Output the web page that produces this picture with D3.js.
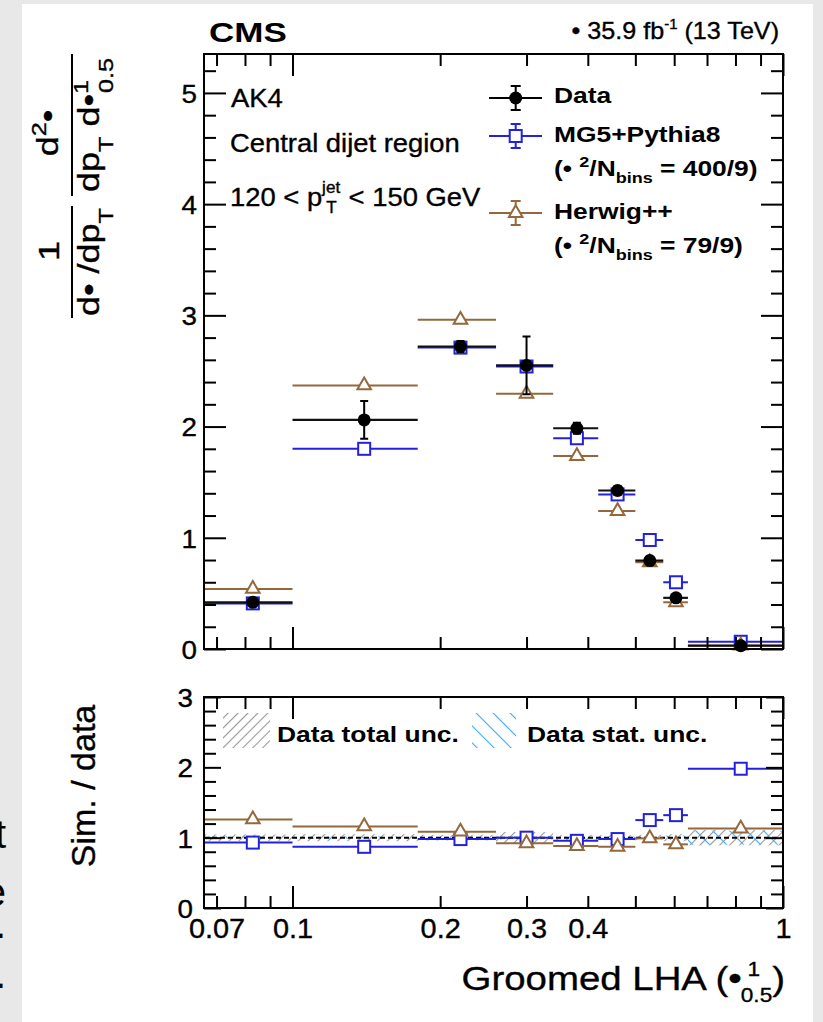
<!DOCTYPE html>
<html>
<head>
<meta charset="utf-8">
<script src="https://cdn.jsdelivr.net/npm/d3@7/dist/d3.min.js"></script>
<style>
  body { margin: 0; background: #e8e8e8; }
  text { font-family: "Liberation Sans", Arial, sans-serif; fill: #000; }
  .heavy { stroke: #000; stroke-width: 0.35; }
</style>
</head>
<body>
<svg id="chart" width="823" height="1022"></svg>
<script>
// bins of groomed LHA
var binLo = [0.066, 0.1, 0.18, 0.26, 0.34, 0.42, 0.5, 0.57, 0.64];
var binHi = [0.1, 0.18, 0.26, 0.34, 0.42, 0.5, 0.57, 0.64, 1];

// upper panel: normalised distribution
var dataVal = [0.42, 2.06, 2.72, 2.55, 1.985, 1.425, 0.795, 0.46, 0.03];
var dataErr = [0.03, 0.17, 0.05, 0.26, 0.05, 0.04, 0.03, 0.03, 0.01];
var mg5Val = [0.41, 1.80, 2.71, 2.54, 1.895, 1.39, 0.98, 0.60, 0.065];
var herwigVal = [0.54, 2.37, 2.96, 2.295, 1.735, 1.24, 0.78, 0.42, 0.03];

// lower panel: sim / data
var mg5Ratio = [0.93, 0.87, 0.98, 1.0, 0.955, 0.98, 1.25, 1.32, 1.98];
var herwigRatio = [1.26, 1.16, 1.085, 0.92, 0.88, 0.87, 0.99, 0.905, 1.13];
var totUnc = [0.045, 0.05, 0.04, 0.08, 0.04, 0.035, 0.04, 0.05, 0.11];
var statUnc = [0.02, 0.02, 0.015, 0.025, 0.015, 0.015, 0.02, 0.03, 0.10];

// axis ticks
var xMinor = [0.07, 0.08, 0.09, 0.2, 0.3, 0.4, 0.5, 0.6, 0.7, 0.8, 0.9];
var xMajor = [0.1, 1];
var xLabels = [0.07, 0.1, 0.2, 0.3, 0.4, 1];
var yMainMajor = [0, 1, 2, 3, 4, 5];
var yRatioMajor = [0, 1, 2, 3];

var BLUE = "#2222dd", BROWN = "#94683c", GREY = "#999999", LBLUE = "#45aef0";
var SXR = 1.07, SXB = 1.2;

var L = 204, R = 783, T1 = 54, B1 = 649, T2 = 697, B2 = 908;

var svg = d3.select("#chart");
svg.append("rect").attr("x", 22).attr("y", 4).attr("width", 791).attr("height", 1018).attr("fill", "#fff");

var x = d3.scaleLog().domain([0.066, 1]).range([L, R]);
var yMain = d3.scaleLinear().domain([0, 5.35]).range([B1, T1]);
var yRatio = d3.scaleLinear().domain([0, 3]).range([B2, T2]);
var mid = function(i){ return (binLo[i] + binHi[i]) / 2; };
var idx = d3.range(binLo.length);

function txt(g, px, py, size, sx, anchor, weight){
    return g.append("text")
        .attr("transform", "translate(" + px + "," + py + ") scale(" + sx + ",1)")
        .attr("font-size", size)
        .attr("text-anchor", anchor || "start")
        .attr("font-weight", weight || "normal")
        .attr("class", weight ? null : "heavy");
}

// hatch patterns
var defs = svg.append("defs");
defs.append("pattern").attr("id", "hatchTot").attr("patternUnits", "userSpaceOnUse")
    .attr("width", 7).attr("height", 7).attr("patternTransform", "rotate(45)")
    .append("line").attr("x1", 0).attr("y1", 0).attr("x2", 0).attr("y2", 7)
    .attr("stroke", GREY).attr("stroke-width", 2.2);
defs.append("pattern").attr("id", "hatchStat").attr("patternUnits", "userSpaceOnUse")
    .attr("width", 12).attr("height", 12).attr("patternTransform", "rotate(-45)")
    .append("line").attr("x1", 0).attr("y1", 0).attr("x2", 0).attr("y2", 12)
    .attr("stroke", LBLUE).attr("stroke-width", 2.2);

// ticks drawn inward with d3 axes
function ticks(axis, tx, ty, vals, len){
    var g = svg.append("g").attr("transform", "translate(" + tx + "," + ty + ")")
        .call(axis.tickValues(vals).tickSize(-len).tickFormat(""));
    g.select(".domain").remove();
    g.selectAll("line").attr("stroke", "#000").attr("stroke-width", 2);
}
function panelTicks(yScale, top, bottom, yMajor, yLen){
    ticks(d3.axisBottom(x), 0, bottom, xMinor, 12);
    ticks(d3.axisBottom(x), 0, bottom, xMajor, 22);
    ticks(d3.axisTop(x), 0, top, xMinor, 12);
    ticks(d3.axisTop(x), 0, top, xMajor, 22);
    var dom = yScale.domain();
    var yMin = d3.range(0, dom[1] + 1e-6, 0.2).filter(function(v){ return Math.abs(v - Math.round(v)) > 1e-6; });
    ticks(d3.axisLeft(yScale), L, 0, yMin, 12);
    ticks(d3.axisLeft(yScale), L, 0, yMajor, yLen);
    ticks(d3.axisRight(yScale), R, 0, yMin, 12);
    ticks(d3.axisRight(yScale), R, 0, yMajor, yLen);
}

// ---------------- upper panel ----------------
var gMain = svg.append("g");

function binLines(g, vals, yScale, color, w){
    g.selectAll(null).data(idx).enter().append("line")
        .attr("x1", function(i){ return x(binLo[i]); })
        .attr("x2", function(i){ return x(binHi[i]); })
        .attr("y1", function(i){ return yScale(vals[i]); })
        .attr("y2", function(i){ return yScale(vals[i]); })
        .attr("stroke", color).attr("stroke-width", w);
}
function squares(g, vals, yScale){
    g.selectAll(null).data(idx).enter().append("rect")
        .attr("x", function(i){ return x(mid(i)) - 6; })
        .attr("y", function(i){ return yScale(vals[i]) - 6; })
        .attr("width", 12).attr("height", 12)
        .attr("fill", "#fff").attr("stroke", BLUE).attr("stroke-width", 2);
}
var tri = d3.symbol().type(d3.symbolTriangle).size(80);
function triangles(g, vals, yScale){
    g.selectAll(null).data(idx).enter().append("path")
        .attr("d", tri)
        .attr("transform", function(i){ return "translate(" + x(mid(i)) + "," + yScale(vals[i]) + ")"; })
        .attr("fill", "#fff").attr("stroke", BROWN).attr("stroke-width", 2);
}

binLines(gMain, mg5Val, yMain, BLUE, 2);
squares(gMain, mg5Val, yMain);
binLines(gMain, herwigVal, yMain, BROWN, 2);
triangles(gMain, herwigVal, yMain);
binLines(gMain, dataVal, yMain, "#111", 2.2);
gMain.selectAll(".err").data(idx).enter().append("path")
    .attr("d", function(i){
        var cx = x(mid(i)), y0 = yMain(dataVal[i] - dataErr[i]), y1 = yMain(dataVal[i] + dataErr[i]);
        return "M" + cx + "," + y0 + "V" + y1 + "M" + (cx - 4) + "," + y0 + "H" + (cx + 4) + "M" + (cx - 4) + "," + y1 + "H" + (cx + 4);
    })
    .attr("stroke", "#000").attr("stroke-width", 2).attr("fill", "none");
gMain.selectAll(".pt").data(idx).enter().append("circle")
    .attr("cx", function(i){ return x(mid(i)); })
    .attr("cy", function(i){ return yMain(dataVal[i]); })
    .attr("r", 6.5).attr("fill", "#000");

panelTicks(yMain, T1, B1, yMainMajor, 22);
svg.append("rect").attr("x", L).attr("y", T1).attr("width", R - L).attr("height", B1 - T1)
    .attr("fill", "none").attr("stroke", "#000").attr("stroke-width", 2);

// y tick labels upper
var yl = svg.append("g").attr("transform", "translate(" + (L - 7) + ",0)")
    .call(d3.axisLeft(yMain).tickValues(yMainMajor).tickSize(0).tickPadding(0).tickFormat(d3.format("d")));
yl.select(".domain").remove();
yl.selectAll("text").attr("font-size", 26).attr("font-family", null).attr("dy", "0.36em")
    .attr("class", "heavy").attr("transform", "scale(" + SXR + ",1)");

// text in the upper panel
txt(svg, 231, 107, 25.6, SXR).text("AK4");
txt(svg, 230, 152, 25.6, SXR).text("Central dijet region");
var pt = txt(svg, 230, 206, 25.6, SXR);
pt.append("tspan").text("120 < p");
pt.append("tspan").attr("font-size", 16).attr("dy", -13).text("jet");
pt.append("tspan").attr("font-size", 16).attr("dx", -13).attr("dy", 20).text("T");
pt.append("tspan").attr("dx", 4).attr("dy", -7).text(" < 150 GeV");

txt(svg, 209, 42, 28, 1.25, "start", "bold").text("CMS");
var lumi = txt(svg, 779, 39, 23.5, SXR, "end");
lumi.append("tspan").text("\u2022 35.9 fb");
lumi.append("tspan").attr("font-size", 14).attr("dy", -10).text("-1");
lumi.append("tspan").attr("dy", 10).text(" (13 TeV)");

// legend upper
var lx0 = 489, lx1 = 542, lxc = 515.7;
function legLine(yy, color){
    svg.append("line").attr("x1", lx0).attr("x2", lx1).attr("y1", yy).attr("y2", yy)
        .attr("stroke", color).attr("stroke-width", 2);
    svg.append("path").attr("d", "M" + lxc + "," + (yy - 12) + "V" + (yy + 12) + "M" + (lxc - 5) + "," + (yy - 12) + "H" + (lxc + 5) + "M" + (lxc - 5) + "," + (yy + 12) + "H" + (lxc + 5))
        .attr("stroke", color).attr("stroke-width", 2);
}
legLine(98, "#000");
svg.append("circle").attr("cx", lxc).attr("cy", 98).attr("r", 6.5).attr("fill", "#000");
legLine(136, BLUE);
svg.append("rect").attr("x", lxc - 6).attr("y", 130).attr("width", 12).attr("height", 12)
    .attr("fill", "#fff").attr("stroke", BLUE).attr("stroke-width", 2);
legLine(213, BROWN);
svg.append("path").attr("d", tri).attr("transform", "translate(" + lxc + ",213)")
    .attr("fill", "#fff").attr("stroke", BROWN).attr("stroke-width", 2);

txt(svg, 554, 103, 22, SXB, "start", "bold").text("Data");
txt(svg, 554, 142, 22, SXB, "start", "bold").text("MG5+Pythia8");
function chiText(py, s){
    var t = txt(svg, 554, py, 22, SXB, "start", "bold");
    t.append("tspan").text("(\u2022 ");
    t.append("tspan").attr("font-size", 15).attr("dy", -9).text("2");
    t.append("tspan").attr("dy", 9).text("/N");
    t.append("tspan").attr("font-size", 15).attr("dy", 7).text("bins");
    t.append("tspan").attr("dy", -7).text(" = " + s + ")");
}
chiText(176, "400/9");
txt(svg, 554, 219, 22, SXB, "start", "bold").text("Herwig++");
chiText(253, "79/9");

// y axis title upper (rotated)
var gy = svg.append("g").attr("transform", "translate(72,330) rotate(-90)");
gy.append("line").attr("x1", 12).attr("x2", 124).attr("y1", 0).attr("y2", 0).attr("stroke", "#000").attr("stroke-width", 2);
gy.append("line").attr("x1", 134).attr("x2", 276).attr("y1", 0).attr("y2", 0).attr("stroke", "#000").attr("stroke-width", 2);
txt(gy, 79, -13, 30, 1.2, "middle").text("1");
var d1 = txt(gy, 68, 27, 30, 1.2, "middle");
d1.append("tspan").text("d\u2022 /dp");
d1.append("tspan").attr("font-size", 21).attr("dy", 14).text("T");
var n2 = txt(gy, 197, -14, 30, 1.2, "middle");
n2.append("tspan").text("d");
n2.append("tspan").attr("font-size", 21).attr("dy", -12).text("2");
n2.append("tspan").attr("dy", 12).text("\u2022");
var d2 = txt(gy, 205, 27, 30, 1.2, "middle");
d2.append("tspan").text("dp");
d2.append("tspan").attr("font-size", 21).attr("dy", 14).text("T");
d2.append("tspan").attr("dy", -14).text(" d\u2022");
d2.append("tspan").attr("font-size", 21).attr("dy", -11).text("1");
d2.append("tspan").attr("font-size", 21).attr("dx", -11).attr("dy", 25).text("0.5");

// ---------------- lower panel ----------------
var gR = svg.append("g");
gR.selectAll(".tot").data(idx).enter().append("rect")
    .attr("x", function(i){ return x(binLo[i]); })
    .attr("width", function(i){ return x(binHi[i]) - x(binLo[i]); })
    .attr("y", function(i){ return yRatio(1 + totUnc[i]); })
    .attr("height", function(i){ return yRatio(1 - totUnc[i]) - yRatio(1 + totUnc[i]); })
    .attr("fill", "url(#hatchTot)");
gR.selectAll(".stat").data(idx).enter().append("rect")
    .attr("x", function(i){ return x(binLo[i]); })
    .attr("width", function(i){ return x(binHi[i]) - x(binLo[i]); })
    .attr("y", function(i){ return yRatio(1 + statUnc[i]); })
    .attr("height", function(i){ return yRatio(1 - statUnc[i]) - yRatio(1 + statUnc[i]); })
    .attr("fill", "url(#hatchStat)");
gR.append("line").attr("x1", L).attr("x2", R).attr("y1", yRatio(1)).attr("y2", yRatio(1))
    .attr("stroke", "#000").attr("stroke-width", 2).attr("stroke-dasharray", "5,3");

binLines(gR, mg5Ratio, yRatio, BLUE, 2);
squares(gR, mg5Ratio, yRatio);
binLines(gR, herwigRatio, yRatio, BROWN, 2);
triangles(gR, herwigRatio, yRatio);

panelTicks(yRatio, T2, B2, yRatioMajor, 17);
svg.append("rect").attr("x", L).attr("y", T2).attr("width", R - L).attr("height", B2 - T2)
    .attr("fill", "none").attr("stroke", "#000").attr("stroke-width", 2);

// legend lower
svg.append("rect").attr("x", 223).attr("y", 713).attr("width", 47).attr("height", 35).attr("fill", "url(#hatchTot)");
svg.append("rect").attr("x", 472).attr("y", 713).attr("width", 44).attr("height", 35).attr("fill", "url(#hatchStat)");
txt(svg, 277, 742, 22, SXB, "start", "bold").text("Data total unc.");
txt(svg, 527, 742, 22, SXB, "start", "bold").text("Data stat. unc.");

var yr = svg.append("g").attr("transform", "translate(" + (L - 11) + ",0)")
    .call(d3.axisLeft(yRatio).tickValues(yRatioMajor).tickSize(0).tickPadding(0).tickFormat(d3.format("d")));
yr.select(".domain").remove();
yr.selectAll("text").attr("font-size", 26).attr("font-family", null).attr("dy", "0.36em")
    .attr("class", "heavy").attr("transform", "scale(" + SXR + ",1)");

var xl = svg.append("g").attr("transform", "translate(0," + (B2 + 11) + ")")
    .call(d3.axisBottom(x).tickValues(xLabels).tickSize(0).tickPadding(0).tickFormat(d3.format("")));
xl.select(".domain").remove();
xl.selectAll("text").attr("font-size", 27).attr("font-family", null)
    .attr("class", "heavy").attr("transform", "scale(" + SXR + ",1)");

svg.append("text").attr("transform", "translate(95,786) rotate(-90)").attr("class", "heavy")
    .attr("font-size", 34).attr("text-anchor", "middle").text("Sim. / data");

var xt = txt(svg, 785, 990, 34, 1.13, "end");
xt.append("tspan").text("Groomed LHA (\u2022");
xt.append("tspan").attr("font-size", 20).attr("dx", 5).attr("dy", -14).text("1");
xt.append("tspan").attr("font-size", 20).attr("dx", -17).attr("dy", 26).text("0.5");
xt.append("tspan").attr("dy", -12).text(")");

// cut-off letters at the page edge
[["t", 848], ["e", 906], [".", 938], [".", 988]].forEach(function(d){
    svg.append("text").attr("x", 6).attr("y", d[1]).attr("text-anchor", "end")
        .attr("font-family", "Liberation Serif").attr("font-size", 40).text(d[0]);
});
</script>
</body>
</html>
